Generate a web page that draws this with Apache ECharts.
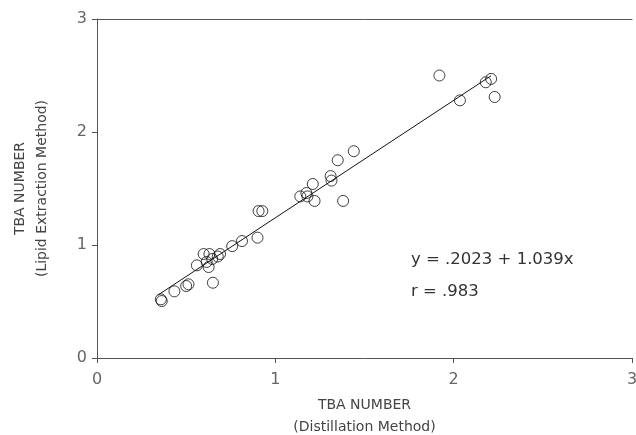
<!DOCTYPE html>
<html>
<head>
<meta charset="utf-8">
<script src="https://cdn.jsdelivr.net/npm/echarts@6/dist/echarts.min.js"></script>
<style>html,body{margin:0;padding:0;background:#fff;}#c{width:636px;height:435px;}</style>
</head>
<body>
<div id="c"></div>
<script>
// Distillation method TBA number (x) vs lipid extraction method TBA number (y)
const distX = [0.358,0.363,0.434,0.50,0.513,0.65,0.56,0.598,0.63,0.615,0.626,0.646,0.677,0.69,0.758,0.813,0.90,0.906,0.927,1.14,1.174,1.18,1.21,1.22,1.31,1.315,1.38,1.35,1.44,1.92,2.035,2.18,2.21,2.23];
const lipidY = [0.519,0.504,0.59,0.637,0.652,0.666,0.82,0.92,0.92,0.85,0.805,0.876,0.898,0.92,0.99,1.035,1.065,1.30,1.30,1.43,1.46,1.43,1.54,1.39,1.61,1.57,1.39,1.75,1.83,2.50,2.28,2.44,2.47,2.31];
// regression line endpoints (y = .2023 + 1.039x)
const fitX = [0.34, 2.21];
const fitY = [0.555, 2.498];
const tickLabels = ['0','1','2','3'];
const eqText = 'y = .2023 + 1.039x';
const rText = 'r = .983';

const chart = echarts.init(document.getElementById('c'), null, {renderer:'canvas'});
const font = "'DejaVu Sans', sans-serif";
const axisCommon = {
  min: 0, max: 3, interval: 1,
  axisLine: {show: true, lineStyle: {color: '#555', width: 1}},
  axisTick: {show: true, inside: false, length: 5, lineStyle: {color: '#555'}},
  splitLine: {show: false},
  axisLabel: {color: '#666', fontSize: 16, fontFamily: font, formatter: v => tickLabels[Math.round(v)]},
  nameTextStyle: {color: '#444', fontSize: 14, fontFamily: font, lineHeight: 22}
};
chart.setOption({
  animation: false,
  grid: {left: 97, right: 4, top: 19, bottom: 77, containLabel: false, outerBoundsMode: 'none'},
  xAxis: [
    Object.assign({}, axisCommon, {type: 'value', position: 'bottom', name: 'TBA NUMBER\n(Distillation Method)', nameLocation: 'middle', nameGap: 36,
      axisLabel: Object.assign({}, axisCommon.axisLabel, {margin: 14})}),
    {type: 'value', position: 'top', min: 0, max: 3, axisLine: {show: true, onZero: false, lineStyle: {color: '#555'}}, axisTick: {show: false}, axisLabel: {show: false}, splitLine: {show: false}}
  ],
  yAxis: Object.assign({}, axisCommon, {type: 'value', name: 'TBA NUMBER\n(Lipid Extraction Method)', nameLocation: 'middle', nameGap: 44,
      axisLabel: Object.assign({}, axisCommon.axisLabel, {margin: 10})}),
  series: [
    {type: 'line', xAxisIndex: 0, data: fitX.map((x,i) => [x, fitY[i]]), symbol: 'none', lineStyle: {color: '#111', width: 1}},
    {type: 'scatter', xAxisIndex: 0, data: distX.map((x,i) => [x, lipidY[i]]), symbol: 'circle', symbolSize: 11,
      itemStyle: {color: 'rgba(0,0,0,0)', borderColor: '#111', borderWidth: 1}}
  ],
  graphic: [
    {type: 'text', left: 411, top: 251, style: {text: eqText, fontSize: 16.5, fontFamily: font, fill: '#333'}},
    {type: 'text', left: 411, top: 283, style: {text: rText, fontSize: 16.5, fontFamily: font, fill: '#333'}}
  ]
});
</script>
</body>
</html>
